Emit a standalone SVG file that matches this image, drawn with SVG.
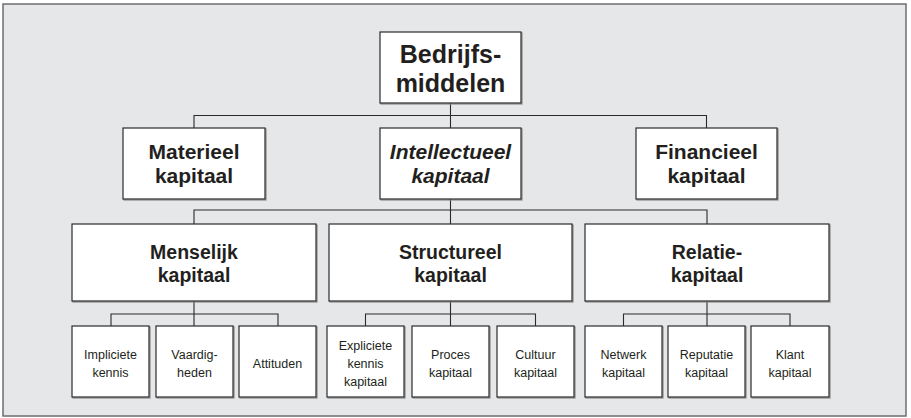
<svg xmlns="http://www.w3.org/2000/svg" width="911" height="418" viewBox="0 0 911 418">
<style>
.frame{fill:#e6e7e8;stroke:#6d6e70;stroke-width:1.5}
.box{fill:#ffffff;stroke:#2b2b2b;stroke-width:1.2}
.sh{fill:none;stroke:#8a8a8a;stroke-width:1.2}
.con{fill:none;stroke:#2b2b2b;stroke-width:1.1}
text{font-family:"Liberation Sans",Arial,Helvetica,sans-serif;fill:#231f20;text-anchor:middle}
.t1{font-size:25px;font-weight:bold}
.t2{font-size:21px;font-weight:bold}
.t3{font-size:19.5px;font-weight:bold}
.t4{font-size:12.5px}
.it{font-style:italic}
</style>
<rect class="frame" x="3" y="4" width="903" height="412"/>
<g id="connectors">
<path class="con" d="M450.5 103V128M194 128V115.5H706.5V128"/>
<path class="con" d="M450.5 199V224M194 224V210H707V224"/>
<path class="con" d="M194 301V326M111 326V314H278V326"/>
<path class="con" d="M450.5 301V326M365.5 326V314H535.5V326"/>
<path class="con" d="M707 301V326M623.5 326V314H790V326"/>
</g>
<g id="bedrijfsmiddelen">
<rect class="sh" x="381" y="33" width="141" height="71"/>
<rect class="box" x="380" y="32" width="141" height="71"/>
<text class="t1" x="450.5" y="62.7">Bedrijfs-</text>
<text class="t1" x="450.5" y="91.7">middelen</text>
</g>
<g id="materieel">
<rect class="sh" x="124" y="129" width="142" height="71"/>
<rect class="box" x="123" y="128" width="142" height="71"/>
<text class="t2" x="194" y="159.3">Materieel</text>
<text class="t2" x="194" y="183.3">kapitaal</text>
</g>
<g id="intellectueel">
<rect class="sh" x="381" y="129" width="141" height="71"/>
<rect class="box" x="380" y="128" width="141" height="71"/>
<text class="t2 it" x="450.5" y="159.3">Intellectueel</text>
<text class="t2 it" x="450.5" y="183.3">kapitaal</text>
</g>
<g id="financieel">
<rect class="sh" x="637" y="129" width="141" height="71"/>
<rect class="box" x="636" y="128" width="141" height="71"/>
<text class="t2" x="706.5" y="159.3">Financieel</text>
<text class="t2" x="706.5" y="183.3">kapitaal</text>
</g>
<g id="menselijk">
<rect class="sh" x="73" y="225" width="244" height="77"/>
<rect class="box" x="72" y="224" width="244" height="77"/>
<text class="t3" x="194" y="259.3">Menselijk</text>
<text class="t3" x="194" y="281.7">kapitaal</text>
</g>
<g id="structureel">
<rect class="sh" x="330" y="225" width="243" height="77"/>
<rect class="box" x="329" y="224" width="243" height="77"/>
<text class="t3" x="450.5" y="259.3">Structureel</text>
<text class="t3" x="450.5" y="281.7">kapitaal</text>
</g>
<g id="relatie">
<rect class="sh" x="586" y="225" width="244" height="77"/>
<rect class="box" x="585" y="224" width="244" height="77"/>
<text class="t3" x="707" y="259.3">Relatie-</text>
<text class="t3" x="707" y="281.7">kapitaal</text>
</g>
<g id="impliciete">
<rect class="sh" x="73" y="327" width="77" height="71"/>
<rect class="box" x="72" y="326" width="77" height="71"/>
<text class="t4" x="110.5" y="359.3">Impliciete</text>
<text class="t4" x="110.5" y="377.3">kennis</text>
</g>
<g id="vaardigheden">
<rect class="sh" x="157" y="327" width="77" height="71"/>
<rect class="box" x="156" y="326" width="77" height="71"/>
<text class="t4" x="194.5" y="359.3">Vaardig-</text>
<text class="t4" x="194.5" y="377.3">heden</text>
</g>
<g id="attituden">
<rect class="sh" x="240" y="327" width="77" height="71"/>
<rect class="box" x="239" y="326" width="77" height="71"/>
<text class="t4" x="277.5" y="368">Attituden</text>
</g>
<g id="expliciete">
<rect class="sh" x="328" y="327" width="77" height="71"/>
<rect class="box" x="327" y="326" width="77" height="71"/>
<text class="t4" x="365.5" y="349.5">Expliciete</text>
<text class="t4" x="365.5" y="367.5">kennis</text>
<text class="t4" x="365.5" y="385.5">kapitaal</text>
</g>
<g id="proces">
<rect class="sh" x="413" y="327" width="77" height="71"/>
<rect class="box" x="412" y="326" width="77" height="71"/>
<text class="t4" x="450.5" y="359.3">Proces</text>
<text class="t4" x="450.5" y="377.3">kapitaal</text>
</g>
<g id="cultuur">
<rect class="sh" x="498" y="327" width="77" height="71"/>
<rect class="box" x="497" y="326" width="77" height="71"/>
<text class="t4" x="535.5" y="359.3">Cultuur</text>
<text class="t4" x="535.5" y="377.3">kapitaal</text>
</g>
<g id="netwerk">
<rect class="sh" x="586" y="327" width="77" height="71"/>
<rect class="box" x="585" y="326" width="77" height="71"/>
<text class="t4" x="623.5" y="359.3">Netwerk</text>
<text class="t4" x="623.5" y="377.3">kapitaal</text>
</g>
<g id="reputatie">
<rect class="sh" x="669" y="327" width="77" height="71"/>
<rect class="box" x="668" y="326" width="77" height="71"/>
<text class="t4" x="706.5" y="359.3">Reputatie</text>
<text class="t4" x="706.5" y="377.3">kapitaal</text>
</g>
<g id="klant">
<rect class="sh" x="752" y="327" width="78" height="71"/>
<rect class="box" x="751" y="326" width="78" height="71"/>
<text class="t4" x="790" y="359.3">Klant</text>
<text class="t4" x="790" y="377.3">kapitaal</text>
</g>
</svg>
